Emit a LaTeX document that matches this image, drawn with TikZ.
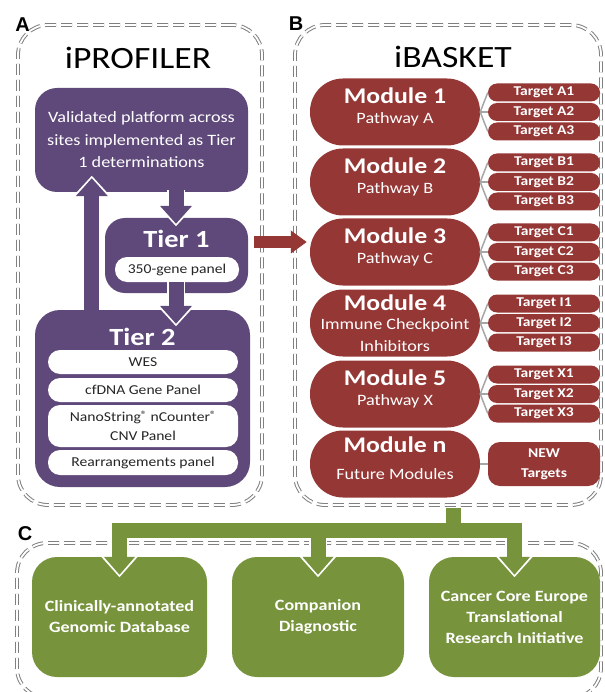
\documentclass[tikz,border=0pt]{standalone}
\usepackage{fontspec}
\setmainfont{Carlito}[FakeStretch=1.15]
\newfontfamily\labfont{Liberation Sans}
\usetikzlibrary{calc,arrows.meta}
\definecolor{ipurple}{HTML}{5F497A}
\definecolor{ired}{HTML}{953735}
\definecolor{igreen}{HTML}{77933C}
\definecolor{framegray}{HTML}{808080}
\definecolor{linegray}{HTML}{A6A6A6}
\newcommand\setfs[2]{\fontsize{#1}{#2}\selectfont}
\newcommand\regmark{{\setfs{10.5}{10.5}\raisebox{3.5pt}{®}}}
\begin{document}
\begin{tikzpicture}[x=1pt,y=-1pt,
  frame/.style={draw=framegray, line width=1pt, double=white, double distance=1.8pt,
    dash pattern=on 11pt off 5pt, rounded corners=30pt, inner sep=0pt},
  lab/.style={font=\labfont\bfseries\setfs{20}{20}, inner sep=0pt},
  ttl/.style={font=\setfs{31}{31}, inner sep=0pt},
  pbox/.style={fill=ipurple, inner sep=0pt},
  tiertitle/.style={font=\bfseries\setfs{24.7}{25}, text=white, inner sep=0pt},
  wbox/.style={fill=white, rounded corners=12pt, inner sep=0pt, align=center,
    font=\setfs{13.6}{19}, text=black!85, minimum width=190pt},
  module/.style={fill=ired, minimum width=170pt, minimum height=67pt, rounded corners=33pt, inner sep=0pt},
  modtitle/.style={font=\bfseries\setfs{22.4}{23}, text=white, inner sep=0pt},
  modsub/.style={font=\setfs{15.8}{21.5}, text=white, inner sep=0pt, align=center},
  tgt/.style={fill=ired, minimum width=112pt, minimum height=18pt, rounded corners=9pt, inner sep=0pt,
    font=\bfseries\setfs{13.5}{20}, text=white, align=center},
  conn/.style={draw=linegray, line width=1.5pt},
  gbox/.style={fill=igreen, rounded corners=25pt, minimum height=120pt, inner sep=0pt, align=center,
    font=\bfseries\setfs{15.7}{21}, text=white},
  parrow/.style={ipurple, line width=15pt, -{Triangle[width=31pt,length=18pt]}},
  punder/.style={white, line width=18.5pt, shorten >=-2.5pt, -{Triangle[width=37pt,length=21pt]}},
  rarrow/.style={ired, line width=12pt, -{Triangle[width=22pt,length=16pt]}},
  garrow/.style={igreen, line width=15pt, -{Triangle[width=30pt,length=18pt]}},
  gunder/.style={white, line width=18.5pt, shorten >=-2.5pt, -{Triangle[width=36pt,length=21pt]}},
  gbar/.style={igreen, line width=15pt}
]
\useasboundingbox (0,0) rectangle (604,692);

% frames
\node[frame, minimum width=244pt, minimum height=480pt] (fa) at (140,265) {};
\node[frame, minimum width=306pt, minimum height=480pt] (fb) at (448,265) {};
\node[frame, minimum width=584pt, minimum height=155pt] (fc) at (309,620.5) {};

% labels and titles
\node[lab] (la) at (22.5,25) {A};
\node[lab] (lb) at (296,24) {B};
\node[lab] (lc) at (25,534) {C};
\node[ttl] (tipro) at (138,58) {iPROFILER};
\node[ttl] (tibas) at (453,57) {iBASKET};

% iPROFILER
\node[pbox, minimum width=213pt, minimum height=104pt, rounded corners=22pt,
  align=center, text=white, font=\setfs{15.8}{22.5}] (val) at (141.5,140)
  {Validated platform across\\sites implemented as Tier\\1 determinations};
\draw[punder] ($(val.south west)+(57,120)$) -- ($(val.south west)+(57,-14)$);
\draw[parrow] ($(val.south west)+(57,120)$) -- ($(val.south west)+(57,-14)$);
\node[pbox, minimum width=215pt, minimum height=177pt, rounded corners=25pt] (t2) at (142.5,398.5) {};
\node[pbox, minimum width=143pt, minimum height=75pt, rounded corners=20pt] (t1) at (176.5,255.5) {};
\node[tiertitle] (t1t) at (176.5,239) {Tier 1};
\node[wbox, minimum width=124pt, minimum height=25pt] (t1p) at (177,269.5) {350-gene panel};
\node[tiertitle] (t2t) at (142.5,337) {Tier 2};
\node[wbox, minimum height=24pt] (wes) at (143,362) {WES};
\node[wbox, minimum height=24pt] (cfd) at (143,390) {cfDNA Gene Panel};
\node[wbox, minimum height=42pt] (nano) at (143,426) {NanoString\regmark{} nCounter\regmark\\CNV Panel};
\node[wbox, minimum height=25pt] (rear) at (143,462.5) {Rearrangements panel};

\draw[punder] ($(val.south)+(34.5,-2)$) -- ($(t1.north)+(-0.5,6)$);
\draw[parrow] ($(val.south)+(34.5,-2)$) -- ($(t1.north)+(-0.5,6)$);
\draw[punder] ($(t1p.south)+(-1,0)$) -- ($(t2.north)+(33.5,14)$);
\draw[parrow] ($(t1p.south)+(-1,0)$) -- ($(t2.north)+(33.5,14)$);

% iBASKET
\foreach \i/\yy/\mtitle/\msub/\moff/\soff in {
  1/112/Module 1/Pathway A/-16.5/7,
  2/182/Module 2/Pathway B/-16.5/7,
  3/252/Module 3/Pathway C/-16.5/7,
  4/323/Module 4/{Immune Checkpoint\\Inhibitors}/-20/12.25,
  5/394/Module 5/Pathway X/-16.5/7,
  n/464/Module n/Future Modules/-19.5/10}{
  \node[module] (m\i) at (395,\yy) {};
  \node[modtitle] (m\i t) at ($(m\i)+(0,\moff)$) {\mtitle};
  \node[modsub] (m\i s) at ($(m\i)+(0,\soff)$) {\msub};
}
\foreach \i/\L in {1/A,2/B,3/C,4/I,5/X}{
  \foreach \k/\d in {1/-19.5,2/0,3/19.5}{
    \node[tgt] (tg\i\k) at ($(m\i)+(149,\d)$) {Target \L\k};
    \draw[conn] (m\i.east) -- (tg\i\k.west);
  }
}
\node[tgt, minimum height=44pt, rounded corners=12pt] (tgn) at ($(mn)+(149,0)$) {NEW\\Targets};
\draw[conn] (mn.east) -- (tgn.west);

\draw[rarrow] ($(t1.east)+(6,-13.5)$) -- ($(m3.west)+(-3,-10)$);

% Outcomes
\node[gbox, minimum width=175pt] (g1) at (119.5,617) {Clinically-annotated\\Genomic Database};
\node[gbox, minimum width=172pt] (g2) at (318,617) {Companion\\Diagnostic};
\node[gbox, minimum width=171pt] (g3) at (514.5,617) {Cancer Core Europe\\Translational\\Research Initiative};
\coordinate (gj) at (453,530);
\foreach \g in {g1,g2,g3}{
  \draw[gunder] (\g.north |- gj) -- ($(\g.north)+(0,18)$);
}
\draw[gbar, line cap=rect] (g1.north |- gj) -- (g3.north |- gj);
\draw[gbar] ($(fb.south)+(5,2)$) -- (gj);
\foreach \g in {g1,g2,g3}{
  \draw[garrow] (\g.north |- gj) -- ($(\g.north)+(0,18)$);
}
\end{tikzpicture}
\end{document}
